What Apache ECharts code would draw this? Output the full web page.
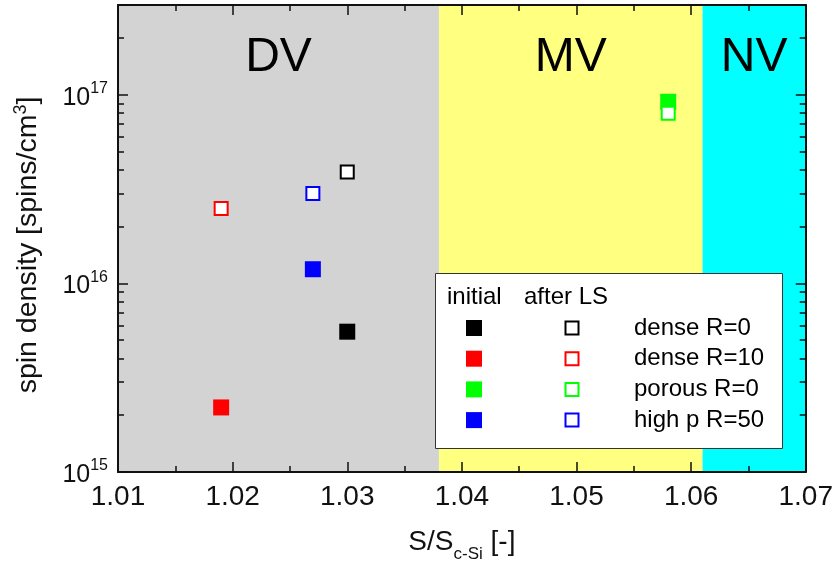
<!DOCTYPE html>
<html>
<head>
<meta charset="utf-8">
<title>spin density vs S/Sc-Si</title>
<script src="https://cdn.jsdelivr.net/npm/echarts@6/dist/echarts.min.js"></script>
<style>
    html, body { margin: 0; background: #fff; }
    #chart { width: 836px; height: 568px; }
</style>
</head>
<body>
<div id="chart"></div>
<script>
// data
var groups = ['dense R=0', 'dense R=10', 'porous R=0', 'high p R=50'];
var colors = ['#000000', '#ff0000', '#00ff00', '#0000ff'];
var ratioX = [1.030, 1.019, 1.058, 1.027];
var initialSpin = [5.55e15, 2.2e15, 9.2e16, 1.19e16];
var afterLsSpin = [3.9e16, 2.5e16, 8.0e16, 3.0e16];

var regionNames = ['DV', 'MV', 'NV'];
var regionBounds = [1.01, 1.038, 1.061, 1.07];
var regionColors = ['#d3d3d3', '#ffff80', '#00ffff'];

var xMin = 1.01, xMax = 1.07, xStep = 0.01;
var yMin = 1e15, yMax = 3e17;

var FONT = '"Liberation Sans", Arial, Helvetica, sans-serif';
var AX = '#111';

// minor log ticks 2..9 x 10^n, in log10 space for the helper axes
var minorLogs = [];
for (var n = 15; n <= 17; n++) {
    for (var k = 2; k <= 9; k++) {
        if (k * Math.pow(10, n) <= yMax) minorLogs.push(n + Math.log10(k));
    }
}

var chart = echarts.init(document.getElementById('chart'));

function logLabel(v) {
    var e = Math.log10(v);
    if (Math.abs(e - Math.round(e)) > 1e-6) return '';
    return '{m|10}{s|' + Math.round(e) + '}';
}

var lineStyle = { show: true, onZero: false, lineStyle: { color: AX, width: 2 } };
var majorTick = { show: true, inside: true, length: 10, lineStyle: { color: AX, width: 1.5 } };
var minorTickY = { show: true, inside: true, length: 6, customValues: minorLogs, lineStyle: { color: AX, width: 1.5 } };

var series = [{
    name: 'regions',
    type: 'scatter',
    data: [],
    z: 1,
    silent: true,
    markArea: {
        silent: true,
        label: {
            show: true, position: 'insideTop', distance: 29,
            fontSize: 48, fontFamily: FONT, color: '#000'
        },
        data: regionNames.map(function (name, i) {
            return [
                { name: name, xAxis: regionBounds[i], itemStyle: { color: regionColors[i] } },
                { xAxis: regionBounds[i + 1] }
            ];
        })
    }
}];

groups.forEach(function (g, i) {
    series.push({
        name: 'initial ' + g,
        type: 'scatter',
        symbol: 'rect',
        symbolSize: 16,
        z: 3,
        itemStyle: { color: colors[i], opacity: 1 },
        data: [[ratioX[i], initialSpin[i]]]
    });
    series.push({
        name: 'after LS ' + g,
        type: 'scatter',
        symbol: 'rect',
        symbolSize: 13,
        z: 4,
        itemStyle: { color: '#ffffff', borderColor: colors[i], borderWidth: 2, opacity: 1 },
        data: [[ratioX[i], afterLsSpin[i]]]
    });
});

var option = {
    animation: false,
    backgroundColor: '#ffffff',
    textStyle: { fontFamily: FONT },
    grid: { left: 118, right: 28, top: 5, bottom: 96 },
    xAxis: [{
        type: 'value', position: 'bottom', min: xMin, max: xMax, interval: xStep, z: 10,
        axisLine: lineStyle,
        axisTick: majorTick,
        minorTick: { show: true, splitNumber: 2, length: 6, lineStyle: { color: AX, width: 1.5 } },
        splitLine: { show: false },
        axisLabel: {
            fontSize: 28, color: AX, margin: 11, fontFamily: FONT,
            formatter: function (v) { return v.toFixed(2); }
        },
        name: '{m|S/S}{sub|c-Si}{m| [-]}',
        nameLocation: 'middle',
        nameGap: 56,
        nameTextStyle: {
            rich: {
                m: { fontSize: 28, lineHeight: 28, color: AX, fontFamily: FONT },
                sub: { fontSize: 17, lineHeight: 17, padding: [24, 0, 0, 0], color: AX, fontFamily: FONT }
            }
        }
    }, {
        type: 'value', position: 'top', min: xMin, max: xMax, interval: xStep, z: 10,
        axisLine: lineStyle,
        axisTick: majorTick,
        minorTick: { show: true, splitNumber: 2, length: 6, lineStyle: { color: AX, width: 1.5 } },
        splitLine: { show: false },
        axisLabel: { show: false }
    }],
    yAxis: [{
        type: 'log', logBase: 10, position: 'left', min: yMin, max: yMax, z: 10,
        axisLine: lineStyle,
        axisTick: majorTick,
        splitLine: { show: false },
        axisLabel: {
            margin: 10, formatter: logLabel,
            rich: {
                m: { fontSize: 25, lineHeight: 25, padding: [6, 0, 0, 0], color: AX, fontFamily: FONT },
                s: { fontSize: 16, lineHeight: 16, padding: [0, 0, 12, 0], color: AX, fontFamily: FONT }
            }
        },
        name: 'spin density [spins/cm{s|3}]',
        nameLocation: 'middle',
        nameGap: 75,
        nameTextStyle: {
            fontSize: 28.5, color: AX, fontFamily: FONT, padding: [0, 13, 0, 0],
            rich: {
                s: { fontSize: 18, lineHeight: 18, padding: [0, 0, 14, 0], color: AX, fontFamily: FONT }
            }
        }
    }, {
        type: 'value', position: 'left', min: 15, max: Math.log10(yMax), z: 10,
        axisLine: { show: false }, axisLabel: { show: false }, splitLine: { show: false },
        axisTick: minorTickY
    }, {
        type: 'log', logBase: 10, position: 'right', min: yMin, max: yMax, z: 10,
        axisLine: lineStyle,
        axisTick: majorTick,
        splitLine: { show: false },
        axisLabel: { show: false }
    }, {
        type: 'value', position: 'right', min: 15, max: Math.log10(yMax), z: 10,
        axisLine: { show: false }, axisLabel: { show: false }, splitLine: { show: false },
        axisTick: minorTickY
    }],
    legend: [{
        orient: 'vertical', left: 466, top: 320, z: 6, padding: 0,
        selectedMode: false, icon: 'rect',
        itemWidth: 16, itemHeight: 16, itemGap: 14.7,
        data: groups.map(function (g) { return 'initial ' + g; }),
        formatter: function () { return ''; },
        textStyle: { fontSize: 24, lineHeight: 16 }
    }, {
        orient: 'vertical', left: 564.5, top: 316, z: 6, padding: 0,
        selectedMode: false, icon: 'rect',
        itemWidth: 13, itemHeight: 13, itemGap: 6.7,
        itemStyle: { borderWidth: 2 },
        data: groups.map(function (g) { return 'after LS ' + g; }),
        formatter: function (name) { return name.replace('after LS ', ''); },
        textStyle: { fontSize: 24, lineHeight: 24, color: '#000', fontFamily: FONT, padding: [0, 0, 0, 50.5] }
    }],
    graphic: [{
        type: 'rect', left: 435, top: 273, z: 3,
        shape: { width: 347, height: 175 },
        style: { fill: '#ffffff', stroke: '#333333', lineWidth: 1 }
    }, {
        type: 'text', left: 447, top: 285, z: 5,
        style: { text: 'initial', font: '24px ' + FONT, fill: '#000' }
    }, {
        type: 'text', left: 524, top: 285, z: 5,
        style: { text: 'after LS', font: '24px ' + FONT, fill: '#000' }
    }],
    series: series
};

chart.setOption(option);
</script>
</body>
</html>
